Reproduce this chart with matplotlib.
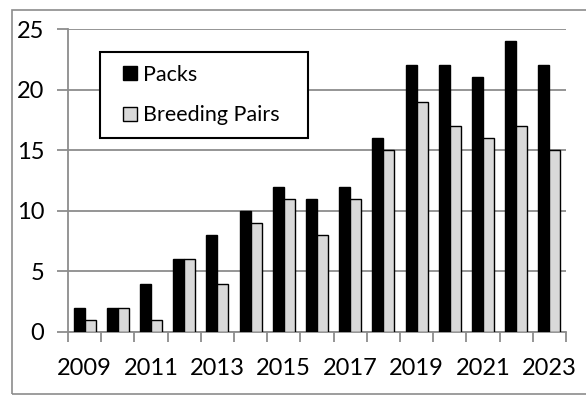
import matplotlib
matplotlib.use("Agg")
import matplotlib.pyplot as plt
from matplotlib.patches import Rectangle
from matplotlib.container import BarContainer
from matplotlib.legend_handler import HandlerPatch
import numpy as np

years = list(range(2009, 2024))
packs = [2, 2, 4, 6, 8, 10, 12, 11, 12, 16, 22, 22, 21, 24, 22]
breeding_pairs = [1, 2, 1, 6, 4, 9, 11, 8, 11, 15, 19, 17, 16, 17, 15]
year_labels = [str(y) if (y - 2009) % 2 == 0 else "" for y in years]

plt.rcParams["font.family"] = ["Lato", "DejaVu Sans"]

fig = plt.figure(figsize=(5.86, 3.95), dpi=100)
ax = fig.add_axes([68 / 586, 63 / 395, 498 / 586, 303 / 395])

# gray frame around the whole chart
fig.patches.append(Rectangle((12 / 586, 1 / 395), 600 / 586, 384 / 395,
                             transform=fig.transFigure, fill=False,
                             edgecolor="#8c8c8c", linewidth=1.2))

x = np.arange(len(years))
w = 0.33
ax.bar(x - w / 2, packs, w, color="black", edgecolor="black", linewidth=1,
       label="Packs", zorder=3)
ax.bar(x + w / 2, breeding_pairs, w, color="#d9d9d9", edgecolor="black",
       linewidth=1, label="Breeding Pairs", zorder=3)

ax.set_xlim(-0.5, len(years) - 0.5)
ax.set_ylim(0, 25)
ax.set_yticks([0, 5, 10, 15, 20, 25])
ax.yaxis.grid(True, color="#8c8c8c", linewidth=1.3, zorder=0)

ax.set_xticks(x)
ax.set_xticklabels(year_labels)
ax.set_xticks(np.arange(-0.5, len(years)), minor=True)
ax.tick_params(axis="x", which="major", length=0, pad=19, labelsize=17)
ax.tick_params(axis="x", which="minor", length=7, width=1.3, color="#8c8c8c")
ax.tick_params(axis="y", length=8, width=1.3, color="#8c8c8c", pad=9,
               labelsize=17)

for s in ["top", "right"]:
    ax.spines[s].set_visible(False)
for s in ["left", "bottom"]:
    ax.spines[s].set_color("#8c8c8c")
    ax.spines[s].set_linewidth(1.3)


# small square key drawn at the right end of the handle slot
def square_key(legend, orig_handle, xdescent, ydescent, width, height, fontsize):
    return Rectangle((width - height - xdescent, -ydescent), height, height)


def copy_bar_style(legend_handle, orig_handle):
    legend_handle.update_from(orig_handle[0])


key_handler = HandlerPatch(patch_func=square_key, update_func=copy_bar_style)

leg = ax.legend(loc="upper left", bbox_to_anchor=(32 / 498, 280 / 303, 208 / 498, 0),
                mode="expand", borderaxespad=0, fancybox=False, framealpha=1,
                edgecolor="black", fontsize=15.5, handlelength=1.1,
                handleheight=0.6, handletextpad=0.3, labelspacing=0.95,
                borderpad=0.6, handler_map={BarContainer: key_handler})
leg.get_frame().set_linewidth(1.5)
leg.set_zorder(5)

fig.savefig("out.png", dpi=100)
